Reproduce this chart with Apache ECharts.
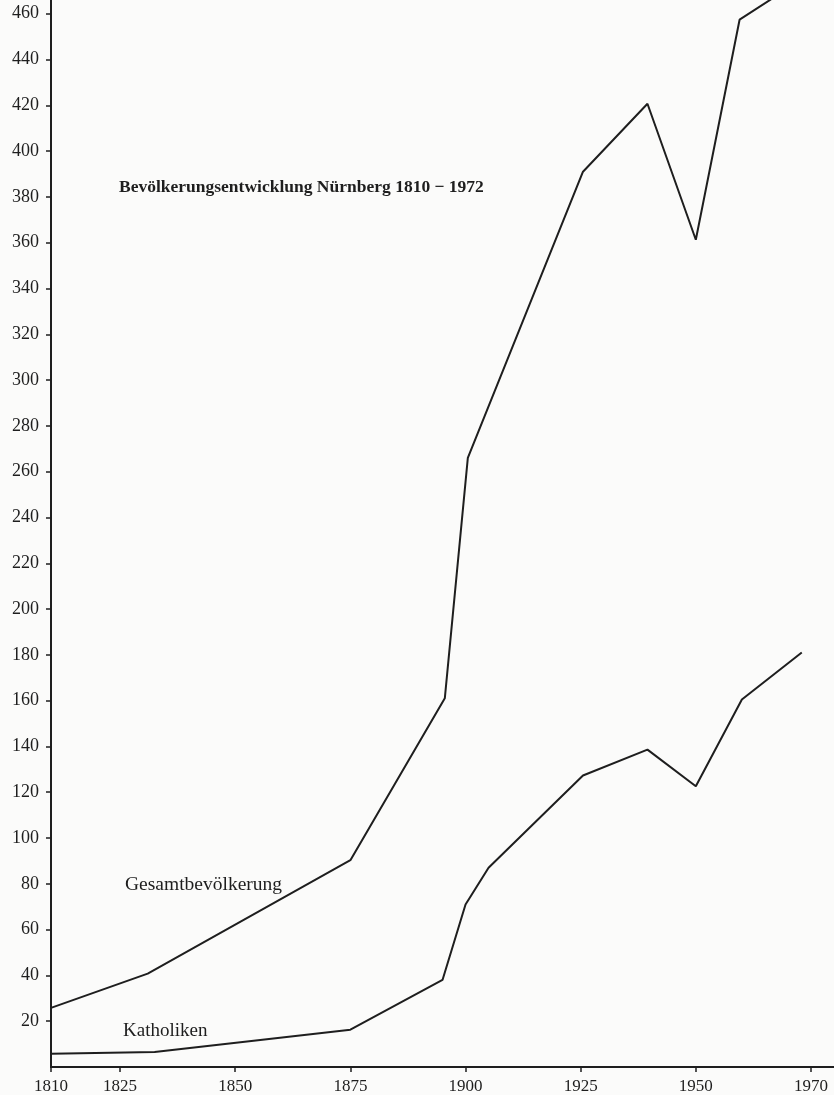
<!DOCTYPE html>
<html>
<head>
<meta charset="utf-8">
<script src="https://cdn.jsdelivr.net/npm/echarts@6/dist/echarts.min.js"></script>
<style>
  html, body { margin: 0; padding: 0; background: #fbfbfa; }
  #chart { width: 834px; height: 1095px; }
</style>
</head>
<body>
<div id="chart"></div>
<script>
// Werte in Tausend
var gesamtJahre = [1810, 1831, 1875, 1895.5, 1900.5, 1925.5, 1939.5, 1950, 1959.5, 1973];
var gesamtWerte = [25.8, 40.8, 90.3, 161, 266, 391, 420.7, 361.3, 457.4, 475];

var kathJahre = [1810, 1832.5, 1875, 1895, 1900, 1905, 1925.5, 1939.5, 1950, 1960, 1973];
var kathWerte = [5.8, 6.6, 16.3, 38, 71, 87, 127.3, 138.6, 122.6, 160.5, 181];

// Achsenbeschriftung (die letzte Marke steht in der Vorlage bei 1975)
var xTicks = [1810, 1825, 1850, 1875, 1900, 1925, 1950, 1975];
var xTickLabels = ['1810', '1825', '1850', '1875', '1900', '1925', '1950', '1970'];
var yTicks = [20, 40, 60, 80, 100, 120, 140, 160, 180, 200, 220, 240, 260, 280, 300, 320, 340, 360, 380, 400, 420, 440, 460];

function zip(xs, ys) {
  return xs.map(function (x, i) { return [x, ys[i]]; });
}

var serif = '"Liberation Serif", "DejaVu Serif", serif';
var ink = '#1e1e1e';

var myChart = echarts.init(document.getElementById('chart'));
myChart.setOption({
  backgroundColor: '#fbfbfa',
  animation: false,
  grid: { left: 51, right: 0, top: 0, bottom: 28, containLabel: false },
  title: {
    text: 'Bevölkerungsentwicklung Nürnberg 1810 − 1972',
    left: 119,
    top: 178,
    padding: 0,
    textStyle: { fontFamily: serif, fontWeight: 'bold', fontSize: 17.5, color: ink }
  },
  graphic: [
    {
      type: 'text', left: 125, top: 875,
      style: { text: 'Gesamtbevölkerung', font: '19.5px ' + serif, fill: ink }
    },
    {
      type: 'text', left: 123, top: 1022,
      style: { text: 'Katholiken', font: '19px ' + serif, fill: ink }
    }
  ],
  xAxis: {
    type: 'value',
    min: 1810,
    max: 1980,
    splitLine: { show: false },
    axisLine: { lineStyle: { color: ink, width: 2 } },
    axisTick: { length: 5, customValues: xTicks, lineStyle: { color: ink, width: 1.5 } },
    axisLabel: {
      customValues: xTicks,
      margin: 11,
      fontFamily: serif,
      fontSize: 17,
      color: ink,
      formatter: function (v) { return xTickLabels[xTicks.indexOf(v)]; }
    }
  },
  yAxis: {
    type: 'value',
    min: 0,
    max: 466,
    splitLine: { show: false },
    axisLine: { show: true, lineStyle: { color: ink, width: 2 } },
    axisTick: { show: true, length: 5, customValues: yTicks, lineStyle: { color: ink, width: 1.5 } },
    axisLabel: {
      customValues: yTicks,
      margin: 12,
      fontFamily: serif,
      fontSize: 18,
      color: ink
    }
  },
  series: [
    {
      name: 'Gesamtbevölkerung',
      type: 'line',
      data: zip(gesamtJahre, gesamtWerte),
      showSymbol: false,
      lineStyle: { color: ink, width: 2 }
    },
    {
      name: 'Katholiken',
      type: 'line',
      data: zip(kathJahre, kathWerte),
      showSymbol: false,
      lineStyle: { color: ink, width: 2 }
    }
  ]
});
</script>
</body>
</html>
